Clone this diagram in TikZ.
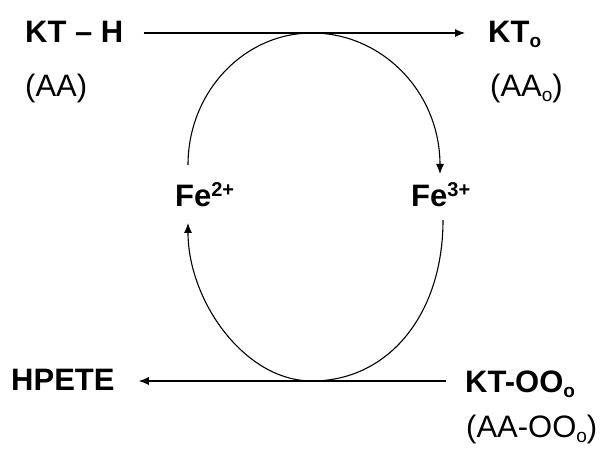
\documentclass[tikz,border=0pt]{standalone}
\usepackage{fontspec}
\setmainfont{Liberation Sans}
\usetikzlibrary{arrows.meta}
\newcommand{\sbo}[1]{\raisebox{-5pt}{\fontsize{19}{19}\selectfont #1}}
\newcommand{\spc}[1]{\raisebox{10pt}{\fontsize{20}{20}\selectfont\bfseries #1}}
\begin{document}
\begin{tikzpicture}[x=1pt,y=-1pt,
  lab/.style={inner sep=0pt,anchor=base west,font=\fontsize{31}{31}\selectfont\bfseries},
  sub/.style={inner sep=0pt,anchor=base west,font=\fontsize{31}{31}\selectfont},
  conn/.style={line width=1.1pt},
  arr/.style={conn,-{Latex[length=10pt,width=8pt]}}]
\useasboundingbox (0,0) rectangle (600,454);
% labels
\node[lab] (kth) at (25,43) {KT -- H};
\node[sub] (aa) at (25,97) {(AA)};
\node[lab] (kto) at (488,43) {KT\sbo{o}};
\node[sub] (aao) at (490,97) {(AA\sbo{o})};
\node[lab] (fe2) at (175,207) {Fe\spc{2+}};
\node[lab] (fe3) at (411,207) {Fe\spc{3+}};
\node[lab] (hpete) at (11,391) {HPETE};
\node[lab] (ktoo) at (465,392) {KT-OO\sbo{o}};
\node[sub] (aaoo) at (466,437) {(AA-OO\sbo{o})};
% tangent points and loop ends
\coordinate (top) at (312,33);
\coordinate (bot) at (312,381);
\coordinate (f2a) at (188,165);
\coordinate (f3a) at (440,174);
\coordinate (f3b) at (443,220);
\coordinate (f2b) at (188,223);
% straight arrows
\draw[arr,shorten <=20pt,shorten >=23pt] (kth.east |- top) -- (kto.west |- top);
\draw[arr,shorten <=19pt,shorten >=24pt] (ktoo.west |- bot) -- (hpete.east |- bot);
% loops
\draw[arr] (f2a) .. controls (188,92) and (244,33) .. (top)
  .. controls (382,33) and (440,92) .. (440,165) -- (f3a);
\draw[arr] (f3b) .. controls (443,315) and (388,381) .. (bot)
  .. controls (244,381) and (188,300) .. (f2b);
\end{tikzpicture}
\end{document}
